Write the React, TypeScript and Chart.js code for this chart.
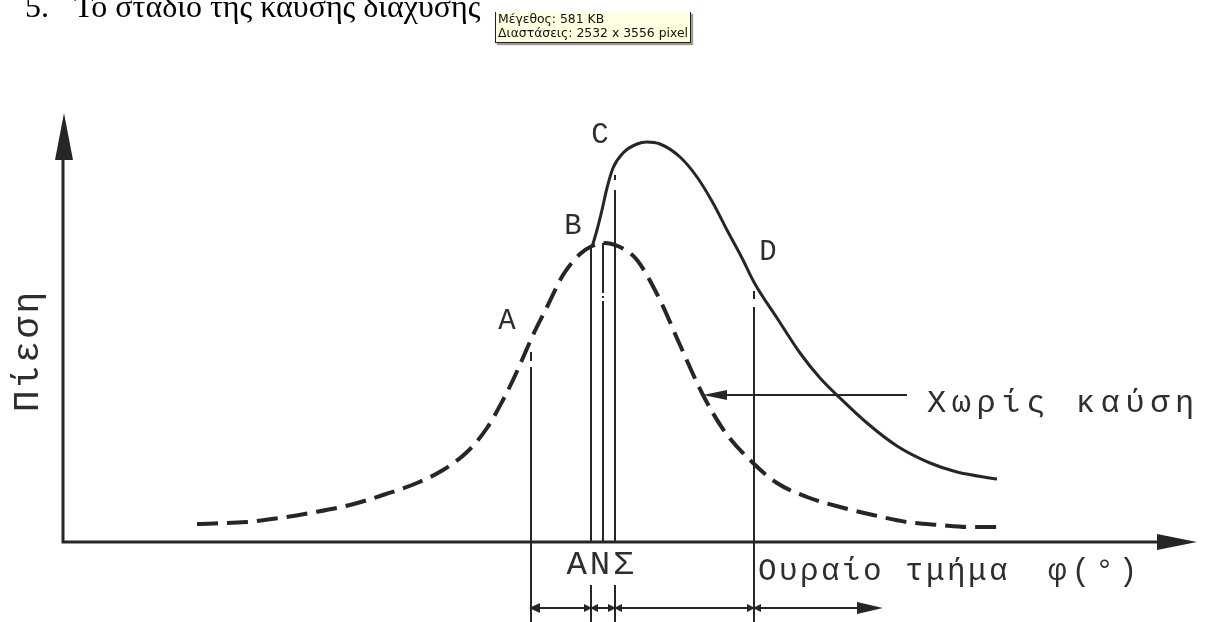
import { useEffect, useRef } from 'react';
import { Chart, registerables } from 'chart.js';

Chart.register(...registerables);

// Crank angle φ (deg, 0 = TDC) and cylinder pressure (bar)
const motoringAngle = [-40.6, -35.6, -32.3, -29.3, -25.3, -22.0, -18.6, -16.0, -13.6, -11.6, -10.0, -9.0, -8.1, -7.0, -5.6, -4.0, -2.3, -1.1, 0, 1.7, 3.4, 5.7, 7.7, 10.0, 12.2, 14.9, 17.4, 20.4, 23.7, 27.0, 30.4, 33.7, 36.7, 39.9];
const motoringPressure = [3.6, 4.0, 4.8, 5.8, 7.4, 9.4, 11.8, 14.4, 18.0, 22.8, 28.4, 32.4, 36.4, 41.4, 47.0, 53.4, 57.6, 59.2, 59.8, 59.0, 56.4, 48.4, 39.4, 29.4, 22.0, 16.0, 11.8, 9.0, 7.0, 5.4, 4.0, 3.4, 3.0, 3.0];

const firingAngle = [-1.1, -0.6, -0.1, 0.4, 1.0, 2.0, 3.4, 4.4, 5.7, 7.7, 9.4, 11.0, 12.4, 13.9, 15.2, 17.4, 19.7, 21.7, 23.7, 26.4, 29.4, 32.7, 35.4, 39.4];
const firingPressure = [59.0, 62.4, 66.4, 70.8, 74.8, 77.8, 79.6, 80.0, 79.6, 77.0, 73.0, 67.8, 62.4, 56.8, 51.6, 44.8, 37.8, 32.8, 28.8, 23.8, 19.2, 15.8, 14.0, 12.6];

// Reference angles: A (start of injection), B (ignition), TDC, end of premixed phase, D
const markerAngle = [-7.2, -1.2, 0, 1.2, 15.1];
// Drawn pieces of each reference line, as [from, to] pressure pairs
const markerSpans: number[][][] = [
  [[38.0, 36.2], [35.0, -16]],
  [[59.0, 0], [-8.6, -16]],
  [[59.8, 49.8], [49.2, 48.8], [48.2, 0]],
  [[73.4, 72.4], [70.4, 0], [-8.6, -16]],
  [[50.2, 48.6], [47.0, -16]],
];

const pointLabels = ['A', 'B', 'C', 'D'];
const pointLabelAngle = [-9.6, -3.0, -0.3, 16.5];
const pointLabelPressure = [44.2, 63.2, 81.4, 58.0];

const axisOriginAngle = -54;
const axisEndAngle = 59.4;
const axisTopPressure = 85.8;

const spanLevel = -13.2;
const spanEndAngle = 28.0;
const spanTicks = [-7.2, -1.2, 1.2, 15.1];

const pointerLevel = 29.4;
const pointerFrom = 30.4;
const pointerTo = 10.0;

const INK = '#262626';
const TEXT = '#2e2e2e';
const MONO = '"Liberation Mono", "DejaVu Sans Mono", monospace';

export default function App() {
  const canvasRef = useRef<HTMLCanvasElement | null>(null);

  useEffect(() => {
    const canvas = canvasRef.current;
    if (!canvas) return;

    const toPoints = (xs: number[], ys: number[]) => xs.map((x, i) => ({ x, y: ys[i] }));

    const markerSets = markerAngle.map((a, i) => {
      const pts: { x: number; y: number | null }[] = [];
      markerSpans[i].forEach(([y1, y2], j) => {
        if (j > 0) pts.push({ x: a, y: null });
        pts.push({ x: a, y: y1 }, { x: a, y: y2 });
      });
      return {
        data: pts,
        borderColor: INK,
        borderWidth: 2,
        pointRadius: 0,
        showLine: true,
        spanGaps: false,
        tension: 0,
      };
    });

    const decor = {
      id: 'decor',
      afterDatasetsDraw(chart: any) {
        const { ctx } = chart;
        const xs = chart.scales.x;
        const ys = chart.scales.y;
        const px = (v: number) => xs.getPixelForValue(v);
        const py = (v: number) => ys.getPixelForValue(v);
        ctx.save();
        ctx.strokeStyle = INK;
        ctx.fillStyle = INK;
        ctx.lineCap = 'butt';

        const tri = (tx: number, ty: number, dir: 'l' | 'r' | 'u', len: number, half: number) => {
          ctx.beginPath();
          ctx.moveTo(tx, ty);
          if (dir === 'l') { ctx.lineTo(tx + len, ty - half); ctx.lineTo(tx + len, ty + half); }
          if (dir === 'r') { ctx.lineTo(tx - len, ty - half); ctx.lineTo(tx - len, ty + half); }
          if (dir === 'u') { ctx.lineTo(tx - half, ty + len); ctx.lineTo(tx + half, ty + len); }
          ctx.closePath();
          ctx.fill();
        };

        // axes
        const ox = px(axisOriginAngle);
        const oy = py(0);
        ctx.lineWidth = 3;
        ctx.beginPath();
        ctx.moveTo(ox, oy);
        ctx.lineTo(px(axisEndAngle) - 20, oy);
        ctx.moveTo(ox, oy + 1.5);
        ctx.lineTo(ox, py(axisTopPressure) + 20);
        ctx.stroke();
        tri(px(axisEndAngle), oy, 'r', 40, 8);
        tri(ox + 1, py(axisTopPressure), 'u', 47, 9);

        // phase span line below the axis
        ctx.lineWidth = 2;
        const sy = py(spanLevel);
        ctx.beginPath();
        ctx.moveTo(px(spanTicks[0]), sy);
        ctx.lineTo(px(spanEndAngle) - 15, sy);
        ctx.stroke();
        tri(px(spanEndAngle), sy, 'r', 26, 6);
        spanTicks.forEach((a, i) => {
          const tx = px(a);
          if (i === 0) {
            tri(tx - 2, sy, 'l', 11, 5);
          } else {
            tri(tx + 1, sy, 'r', 8, 4);
            tri(tx - 1, sy, 'l', 8, 4);
          }
        });

        // pointer to the motoring curve
        const ly = py(pointerLevel);
        ctx.beginPath();
        ctx.moveTo(px(pointerFrom), ly);
        ctx.lineTo(px(pointerTo) + 12, ly);
        ctx.stroke();
        tri(px(pointerTo), ly, 'l', 24, 5);

        // text
        ctx.fillStyle = TEXT;
        const text = (s: string, x: number, y: number, size: number, spacing: number, align: CanvasTextAlign = 'center', rot = 0) => {
          ctx.save();
          ctx.font = `${size}px ${MONO}`;
          (ctx as any).letterSpacing = `${spacing}px`;
          ctx.textAlign = align;
          ctx.textBaseline = 'middle';
          ctx.translate(x, y);
          if (rot) ctx.rotate(rot);
          ctx.fillText(s, align === 'center' ? spacing / 2 : 0, 0);
          ctx.restore();
        };
        pointLabels.forEach((s, i) => text(s, px(pointLabelAngle[i]), py(pointLabelPressure[i]), 29, 0));
        text('ΑΝΣ', px(-0.3), py(-4.6), 34, 3);
        text('Ουραίο τμήμα', px(15.5), py(-6.0), 31, 2.4, 'left');
        text('φ(°)', px(44.5), py(-6.0), 31, 5, 'left');
        text('Χωρίς καύση', px(32.4), py(27.6), 32, 5.6, 'left');
        text('Πίεση', px(-57.5), py(38.0), 36, 3, 'center', -Math.PI / 2);
        ctx.restore();
      },
    };

    const chart = new Chart(canvas, {
      type: 'scatter',
      data: {
        datasets: [
          {
            data: toPoints(motoringAngle, motoringPressure),
            borderColor: INK,
            borderWidth: 4,
            borderDash: [21, 9],
            pointRadius: 0,
            showLine: true,
            cubicInterpolationMode: 'monotone',
          },
          {
            data: toPoints(firingAngle, firingPressure),
            borderColor: INK,
            borderWidth: 3,
            pointRadius: 0,
            showLine: true,
            cubicInterpolationMode: 'monotone',
          },
          ...markerSets,
        ] as any,
      },
      options: {
        responsive: false,
        animation: false,
        layout: { padding: 0 },
        plugins: { legend: { display: false }, tooltip: { enabled: false } },
        scales: {
          x: { type: 'linear', min: -60.3, max: 60.6, display: false },
          y: { type: 'linear', min: -16, max: 108.4, display: false },
        },
      },
      plugins: [decor],
    });

    return () => chart.destroy();
  }, []);

  return (
    <div style={{ position: 'fixed', left: 0, top: 0, width: 1209, height: 622, background: '#fff', overflow: 'hidden' }}>
      <canvas ref={canvasRef} width={1209} height={622} style={{ display: 'block' }} />
      <div style={{ position: 'absolute', left: 25, top: -10, font: '32px "Liberation Serif", "Times New Roman", serif', lineHeight: '32px', color: '#000', whiteSpace: 'pre' }}>5.</div>
      <div style={{ position: 'absolute', left: 74, top: -10, font: '32px "Liberation Serif", "Times New Roman", serif', lineHeight: '32px', color: '#000', whiteSpace: 'pre' }}>Το στάδιο της καύσης διάχυσης</div>
      <div
        style={{
          position: 'absolute',
          left: 495,
          top: 12,
          width: 192,
          height: 30,
          background: '#FFFFE1',
          borderLeft: '1px solid #222',
          borderRight: '1px solid #222',
          borderBottom: '1px solid #222',
          boxShadow: '2px 2px 1px #9a9a9a',
          font: '12.4px "DejaVu Sans", Verdana, sans-serif',
          lineHeight: '14px',
          color: '#111',
          paddingLeft: 2,
          whiteSpace: 'nowrap',
          boxSizing: 'content-box',
        }}
      >
        <div>Μέγεθος: 581 KB</div>
        <div>Διαστάσεις: 2532 x 3556 pixel</div>
      </div>
    </div>
  );
}
